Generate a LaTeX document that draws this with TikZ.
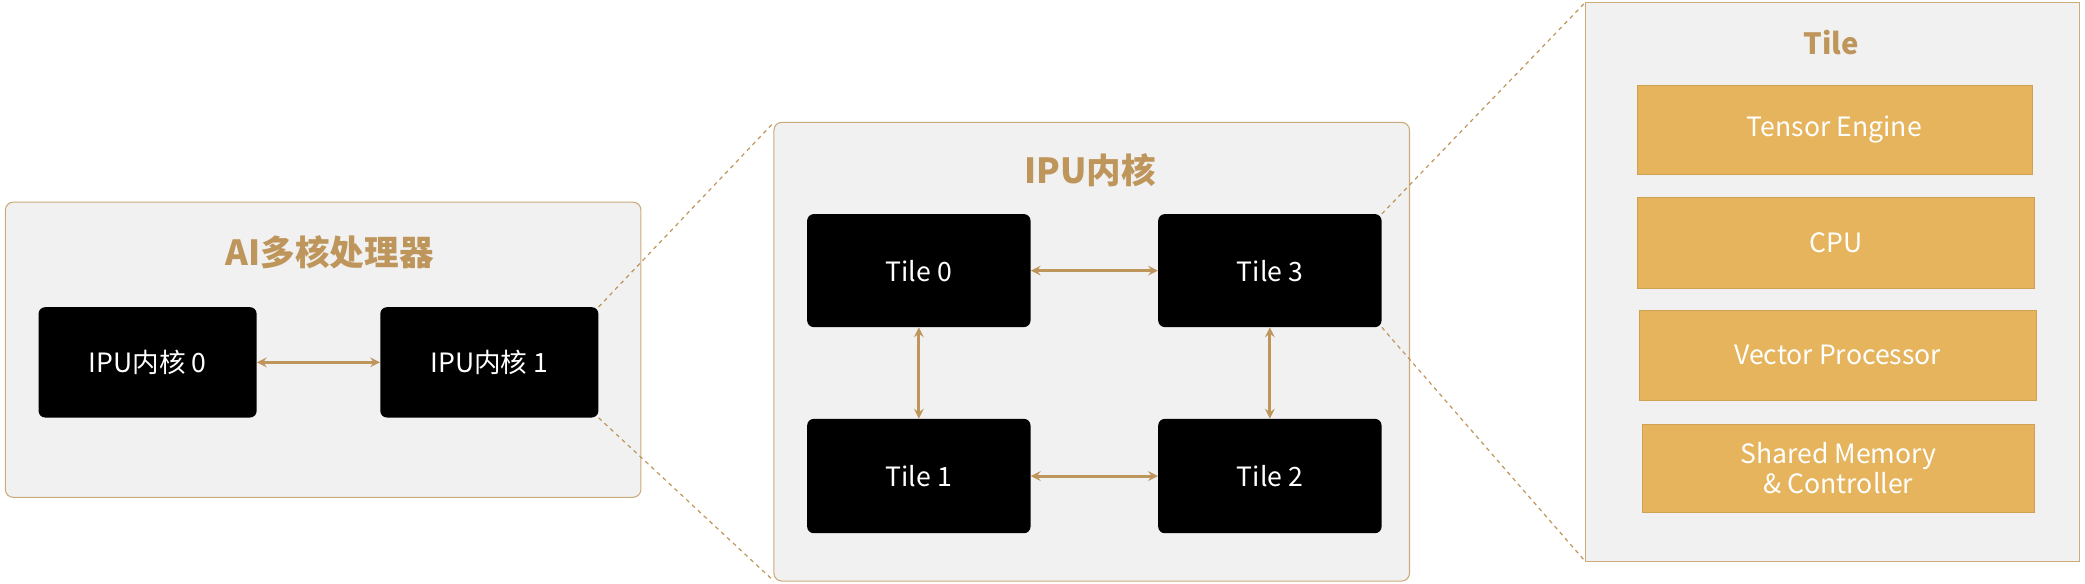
\documentclass[tikz,border=0pt]{standalone}
\usepackage{fontspec}
\setmainfont{Noto Sans CJK SC}
\usetikzlibrary{positioning}
\definecolor{gold}{HTML}{BE955A}
\definecolor{panel}{HTML}{F1F1F1}
\definecolor{unit}{HTML}{E5B45C}
\tikzset{
  panel/.style={draw=gold!80, fill=panel, rounded corners=6pt, line width=0.8pt},
  core/.style={fill=black, text=white, rounded corners=5pt, font=\fontsize{20}{24}\selectfont},
  block/.style={fill=unit, text=white, draw=unit!90!black, line width=0.3pt, font=\fontsize{20}{23}\selectfont, align=center},
  title/.style={text=gold, font=\bfseries\fontsize{26}{30}\selectfont},
  link/.style={<->, >=stealth, draw=gold, line width=2.2pt},
  zoom/.style={draw=gold, dashed, line width=0.9pt}
}
\newcommand{\corebox}[5]{\node[core, minimum width=#3pt, minimum height=#4pt] (#1) at (#2) {#5};}
\begin{document}
\begin{tikzpicture}[x=1pt,y=-1pt]
  \useasboundingbox (0,0) rectangle (1568,439);

  % left panel
  \draw[panel] (4,152) rectangle (482,374);
  \node[title] (soc) at (248,190) {AI多核处理器};
  \corebox{ipu0}{111,272.5}{164}{83}{IPU内核 0}
  \corebox{ipu1}{368,272.5}{164}{83}{IPU内核 1}
  \draw[link] (ipu0) -- (ipu1);

  % middle panel
  \draw[panel] (582,92) rectangle (1060,437);
  \node[title] (core) at (820,128) {IPU内核};
  \corebox{tile0}{691,203.5}{168}{85}{Tile 0}
  \corebox{tile3}{955,203.5}{168}{85}{Tile 3}
  \corebox{tile1}{691,358}{168}{86}{Tile 1}
  \corebox{tile2}{955,358}{168}{86}{Tile 2}
  \draw[link] (tile0) -- (tile3);
  \draw[link] (tile1) -- (tile2);
  \draw[link] (tile0) -- (tile1);
  \draw[link] (tile3) -- (tile2);

  % right panel
  \draw[draw=gold!80, fill=panel, line width=0.8pt] (1192,2) rectangle (1564,422);
  \node[title, font=\bfseries\fontsize{22}{26}\selectfont] (tile) at (1377,32) {Tile};
  \node[block, minimum width=297pt, minimum height=67pt] (tensor) at (1379.5,97.5) {Tensor Engine};
  \node[block, minimum width=299pt, minimum height=69pt] (cpu) at (1380.5,182.5) {CPU};
  \node[block, minimum width=298pt, minimum height=68pt] (vector) at (1382,267) {Vector Processor};
  \node[block, minimum width=295pt, minimum height=66pt] (memory) at (1382.5,352) {Shared Memory\\\& Controller};

  % zoom lines
  \draw[zoom] (ipu1.north east) -- (582,92);
  \draw[zoom] (ipu1.south east) -- (582,437);
  \draw[zoom] (tile3.north east) -- (1192,2);
  \draw[zoom] (tile3.south east) -- (1192,422);
\end{tikzpicture}
\end{document}
